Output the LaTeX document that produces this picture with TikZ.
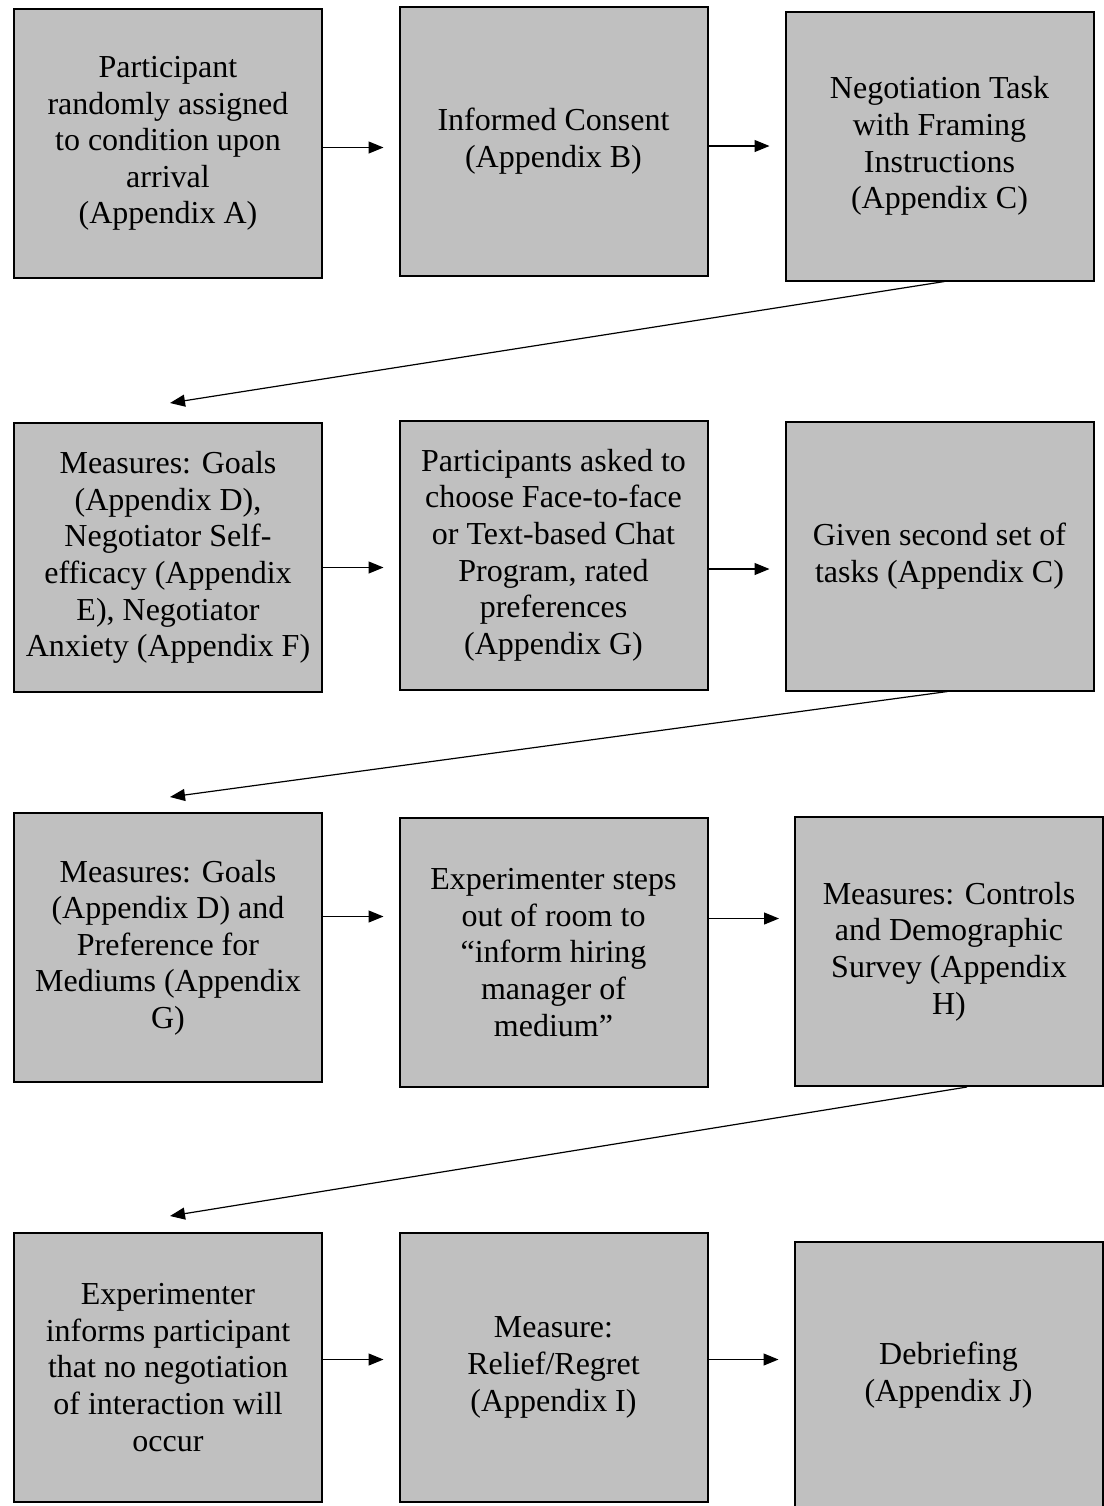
\documentclass[tikz,border=0pt]{standalone}
\usepackage{fontspec}
\setmainfont{Liberation Serif}
\usetikzlibrary{arrows.meta}
\begin{document}
\begin{tikzpicture}[x=0.5pt,y=-0.5pt,
  flowbox/.style={draw=black, line width=1pt, fill=boxgray, align=center,
    minimum width=154pt, minimum height=134.5pt, inner sep=0pt,
    font=\fontsize{16pt}{18.3pt}\selectfont},
  arr/.style={line width=0.6pt, -{Triangle[length=7.5pt,width=6pt]}}]
\definecolor{boxgray}{RGB}{192,192,192}
\useasboundingbox (0,0) rectangle (1104,1506);
% row 1
\node[flowbox] (A) at (168,143.5) {Participant\\randomly assigned\\to condition upon\\arrival\\(Appendix A)};
\node[flowbox] (B) at (553.5,141) {Informed Consent\\(Appendix B)};
\node[flowbox] (C) at (939.5,146) {Negotiation Task\\with Framing\\Instructions\\(Appendix C)};
% row 2
\node[flowbox] (D) at (168,557.5) {Measures: Goals\\(Appendix D),\\Negotiator Self-\\efficacy (Appendix\\E), Negotiator\\Anxiety (Appendix F)};
\node[flowbox] (E) at (553.5,555) {Participants asked to\\choose Face-to-face\\or Text-based Chat\\Program, rated\\preferences\\(Appendix G)};
\node[flowbox] (F) at (939.5,556) {Given second set of\\tasks (Appendix C)};
% row 3
\node[flowbox] (G) at (168,947.5) {Measures: Goals\\(Appendix D) and\\Preference for\\Mediums (Appendix\\G)};
\node[flowbox] (H) at (553.5,952.5) {Experimenter steps\\out of room to\\“inform hiring\\manager of\\medium”};
\node[flowbox] (I) at (949,951.5) {Measures: Controls\\and Demographic\\Survey (Appendix\\H)};
% row 4
\node[flowbox] (J) at (168,1367.5) {Experimenter\\informs participant\\that no negotiation\\of interaction will\\occur};
\node[flowbox] (K) at (553.5,1367.5) {Measure:\\Relief/Regret\\(Appendix I)};
\node[flowbox, minimum height=133pt] (L) at (948.5,1375) {Debriefing\\(Appendix J)};
% horizontal connectors
\draw[arr, shorten >=7.5pt] ([yshift=-2pt]A.east) -- ([yshift=-2pt]A.east -| B.west);
\draw[arr, shorten >=7.5pt] ([yshift=-2.5pt]B.east) -- ([yshift=-2.5pt]B.east -| C.west);
\draw[arr, shorten >=7.5pt] ([yshift=-5pt]D.east) -- ([yshift=-5pt]D.east -| E.west);
\draw[arr, shorten >=7.5pt] ([yshift=-7pt]E.east) -- ([yshift=-7pt]E.east -| F.west);
\draw[arr, shorten >=7.5pt] ([yshift=15.5pt]G.east) -- ([yshift=15.5pt]G.east -| H.west);
\draw[arr, shorten >=7.5pt] ([yshift=17pt]H.east) -- ([yshift=17pt]H.east -| I.west);
\draw[arr, shorten >=7.5pt] ([yshift=4pt]J.east) -- ([yshift=4pt]J.east -| K.west);
\draw[arr, shorten >=7.5pt] ([yshift=4pt]K.east) -- ([yshift=4pt]K.east -| L.west);
% diagonal connectors
\draw[arr] ([xshift=2.5pt]C.south) -- ([xshift=1pt,yshift=9.5pt]D.north);
\draw[arr] ([xshift=4pt]F.south) -- ([xshift=1pt,yshift=7.5pt]G.north);
\draw[arr] ([xshift=9pt]I.south) -- ([xshift=1pt,yshift=8pt]J.north);
\end{tikzpicture}
\end{document}
